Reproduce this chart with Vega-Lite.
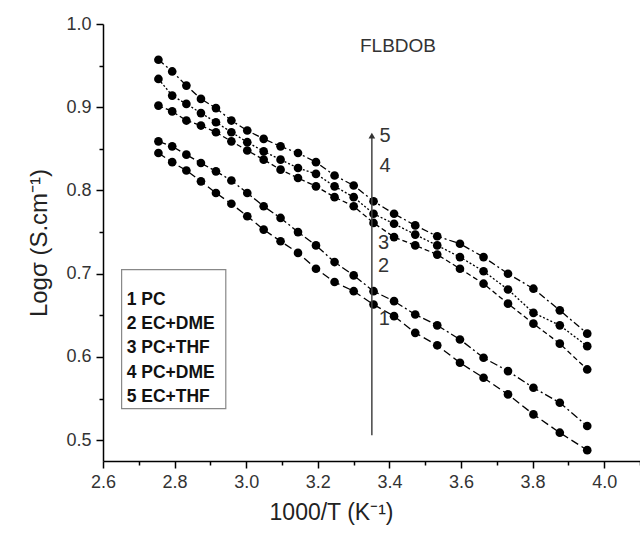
{
  "$schema": "https://vega.github.io/schema/vega-lite/v6.json",
  "width": 537,
  "height": 437,
  "autosize": {"type": "none"},
  "padding": {"left": 103, "top": 24, "right": 0, "bottom": 74},
  "background": "white",
  "config": {"view": {"stroke": null}, "font": "Liberation Sans"},
  "datasets": {
    "curves": [
      {"x": 2.7548, "s5": 0.957, "s4": 0.934, "s3": 0.902, "s2": 0.859, "s1": 0.845},
      {"x": 2.7933, "s5": 0.943, "s4": 0.914, "s3": 0.895, "s2": 0.853, "s1": 0.834},
      {"x": 2.8329, "s5": 0.926, "s4": 0.904, "s3": 0.884, "s2": 0.843, "s1": 0.824},
      {"x": 2.8736, "s5": 0.910, "s4": 0.893, "s3": 0.878, "s2": 0.833, "s1": 0.811},
      {"x": 2.9155, "s5": 0.899, "s4": 0.882, "s3": 0.870, "s2": 0.823, "s1": 0.797},
      {"x": 2.9586, "s5": 0.884, "s4": 0.870, "s3": 0.859, "s2": 0.812, "s1": 0.784},
      {"x": 3.0030, "s5": 0.872, "s4": 0.858, "s3": 0.848, "s2": 0.797, "s1": 0.769},
      {"x": 3.0488, "s5": 0.862, "s4": 0.847, "s3": 0.837, "s2": 0.781, "s1": 0.753},
      {"x": 3.0960, "s5": 0.853, "s4": 0.837, "s3": 0.825, "s2": 0.767, "s1": 0.739},
      {"x": 3.1447, "s5": 0.845, "s4": 0.827, "s3": 0.815, "s2": 0.750, "s1": 0.725},
      {"x": 3.1949, "s5": 0.834, "s4": 0.820, "s3": 0.805, "s2": 0.734, "s1": 0.706},
      {"x": 3.2468, "s5": 0.818, "s4": 0.805, "s3": 0.792, "s2": 0.714, "s1": 0.690},
      {"x": 3.3003, "s5": 0.806, "s4": 0.792, "s3": 0.781, "s2": 0.698, "s1": 0.679},
      {"x": 3.3557, "s5": 0.787, "s4": 0.772, "s3": 0.761, "s2": 0.679, "s1": 0.663},
      {"x": 3.4130, "s5": 0.772, "s4": 0.760, "s3": 0.744, "s2": 0.667, "s1": 0.649},
      {"x": 3.4722, "s5": 0.758, "s4": 0.747, "s3": 0.734, "s2": 0.651, "s1": 0.629},
      {"x": 3.5336, "s5": 0.745, "s4": 0.734, "s3": 0.723, "s2": 0.638, "s1": 0.614},
      {"x": 3.5971, "s5": 0.736, "s4": 0.720, "s3": 0.706, "s2": 0.621, "s1": 0.593},
      {"x": 3.6630, "s5": 0.720, "s4": 0.703, "s3": 0.688, "s2": 0.599, "s1": 0.575},
      {"x": 3.7313, "s5": 0.700, "s4": 0.681, "s3": 0.664, "s2": 0.583, "s1": 0.555},
      {"x": 3.8023, "s5": 0.682, "s4": 0.653, "s3": 0.640, "s2": 0.563, "s1": 0.531},
      {"x": 3.8760, "s5": 0.656, "s4": 0.638, "s3": 0.616, "s2": 0.545, "s1": 0.509},
      {"x": 3.9526, "s5": 0.628, "s4": 0.613, "s3": 0.585, "s2": 0.517, "s1": 0.488}
    ],
    "arrow": [{"x": 3.351, "y": 0.506, "y2": 0.865}],
    "arrowhead": [{"x": 3.351, "y": 0.866}],
    "arrowlabels": [
      {"x": 3.372, "y": 0.866, "t": "5"},
      {"x": 3.372, "y": 0.829, "t": "4"},
      {"x": 3.368, "y": 0.737, "t": "3"},
      {"x": 3.368, "y": 0.709, "t": "2"},
      {"x": 3.370, "y": 0.645, "t": "1"}
    ],
    "legendbox": [{"x": 2.652, "x2": 2.943, "y": 0.705, "y2": 0.538}],
    "legendtext": [
      {"x": 2.666, "y": 0.669, "t": "1 PC"},
      {"x": 2.666, "y": 0.640, "t": "2 EC+DME"},
      {"x": 2.666, "y": 0.611, "t": "3 PC+THF"},
      {"x": 2.666, "y": 0.581, "t": "4 PC+DME"},
      {"x": 2.666, "y": 0.552, "t": "5 EC+THF"}
    ],
    "title": [{"x": 3.424, "y": 0.974, "t": "FLBDOB"}]
  },
  "encoding": {
    "x": {
      "field": "x", "type": "quantitative",
      "scale": {"domain": [2.6, 4.1], "nice": false, "zero": false},
      "axis": {
        "title": "1000/T (K⁻¹)",
        "titleFontSize": 23, "titleFontWeight": "normal", "titleColor": "#222",
        "titleX": 228, "titlePadding": 10,
        "values": [2.6, 2.7, 2.8, 2.9, 3.0, 3.1, 3.2, 3.3, 3.4, 3.5, 3.6, 3.7, 3.8, 3.9, 4.0, 4.1],
        "labelExpr": "round(datum.value*10) % 2 == 0 ? format(datum.value, '.1f') : ''",
        "labelFontSize": 18, "labelColor": "#333", "labelPadding": 5,
        "tickSize": {"condition": {"test": "round(datum.value*10) % 2 == 0", "value": 7}, "value": 4},
        "tickColor": "black", "tickWidth": 1.5, "domainColor": "black", "domainWidth": 1.5,
        "grid": false, "labelFlush": false, "labelOverlap": false
      }
    },
    "y": {
      "field": "y", "type": "quantitative",
      "scale": {"domain": [0.475, 1.0], "nice": false, "zero": false},
      "axis": {
        "title": "Logσ (S.cm⁻¹)",
        "titleFontSize": 24, "titleFontWeight": "normal", "titleColor": "#222", "titlePadding": 14,
        "values": [0.5, 0.55, 0.6, 0.65, 0.7, 0.75, 0.8, 0.85, 0.9, 0.95, 1.0],
        "labelExpr": "round(datum.value*100) % 10 == 0 ? format(datum.value, '.1f') : ''",
        "labelFontSize": 18, "labelColor": "#333", "labelPadding": 5,
        "tickSize": {"condition": {"test": "round(datum.value*100) % 10 == 0", "value": 7}, "value": 4},
        "tickColor": "black", "tickWidth": 1.5, "domainColor": "black", "domainWidth": 1.5,
        "grid": false, "labelFlush": false, "labelOverlap": false
      }
    }
  },
  "layer": [
    {
      "data": {"name": "curves"},
      "transform": [{"fold": ["s1", "s2", "s3", "s4", "s5"], "as": ["s", "y"]}],
      "mark": {"type": "line", "color": "black", "strokeWidth": 1.3},
      "encoding": {
        "detail": {"field": "s"},
        "strokeDash": {
          "field": "s", "type": "nominal",
          "scale": {"domain": ["s1", "s2", "s3", "s4", "s5"], "range": [[8, 4], [8, 3, 2, 3], [5, 3], [2, 2], [7, 3, 2, 3]]},
          "legend": null
        }
      }
    },
    {
      "data": {"name": "curves"},
      "transform": [{"fold": ["s1", "s2", "s3", "s4", "s5"], "as": ["s", "y"]}],
      "mark": {"type": "point", "shape": "circle", "filled": true, "color": "black", "opacity": 1, "size": 75}
    },
    {
      "data": {"name": "arrow"},
      "mark": {"type": "rule", "color": "#444", "strokeWidth": 1.5},
      "encoding": {"y2": {"field": "y2"}}
    },
    {
      "data": {"name": "arrowhead"},
      "mark": {"type": "point", "shape": "triangle-up", "filled": true, "color": "#333", "opacity": 1, "size": 45}
    },
    {
      "data": {"name": "arrowlabels"},
      "mark": {"type": "text", "align": "left", "baseline": "middle", "fontSize": 20, "color": "#333"},
      "encoding": {"text": {"field": "t"}}
    },
    {
      "data": {"name": "legendbox"},
      "mark": {"type": "rect", "fill": "white", "stroke": "#888", "strokeWidth": 1.2},
      "encoding": {"x2": {"field": "x2"}, "y2": {"field": "y2"}}
    },
    {
      "data": {"name": "legendtext"},
      "mark": {"type": "text", "align": "left", "baseline": "middle", "fontSize": 17.5, "fontWeight": "bold", "color": "#111"},
      "encoding": {"text": {"field": "t"}}
    },
    {
      "data": {"name": "title"},
      "mark": {"type": "text", "align": "center", "baseline": "middle", "fontSize": 19, "color": "#333"},
      "encoding": {"text": {"field": "t"}}
    }
  ]
}
